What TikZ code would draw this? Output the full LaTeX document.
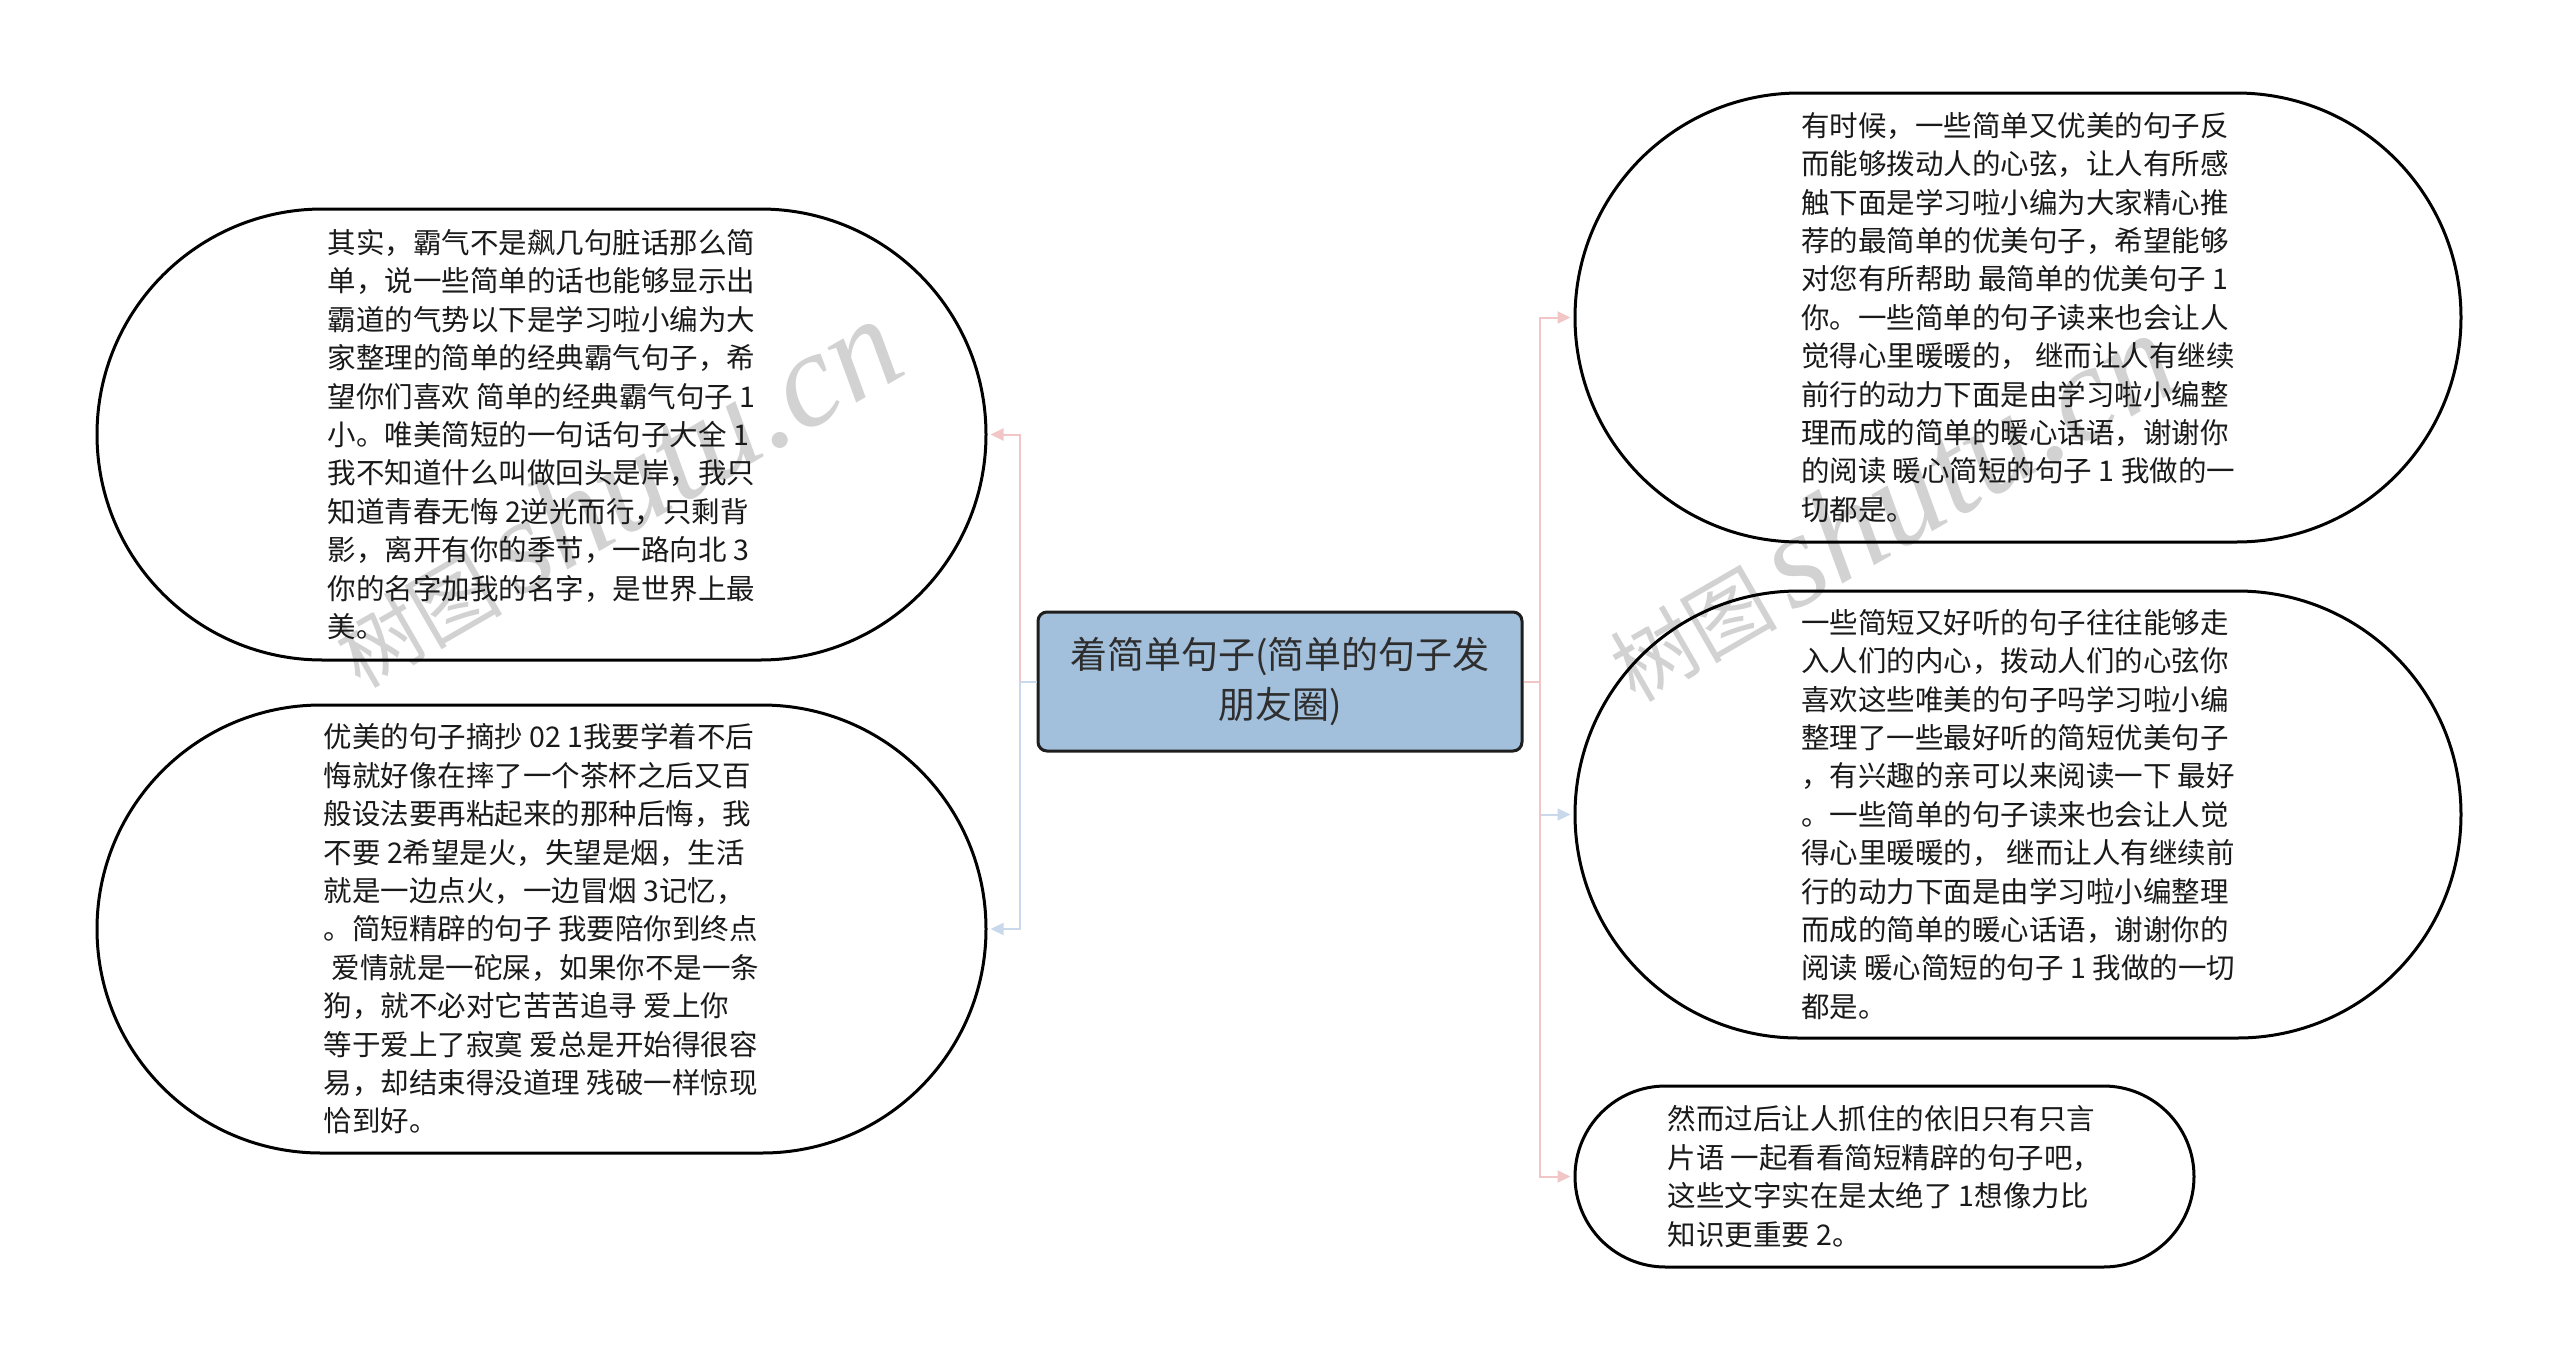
\documentclass[tikz,border=0pt]{standalone}
\usepackage{fontspec}
\newfontfamily\cjk{Noto Sans CJK SC}
\newfontfamily\wmfont{Liberation Serif}
\usetikzlibrary{shapes.misc,arrows.meta}
\definecolor{pinkline}{HTML}{F2C6C6}
\definecolor{blueline}{HTML}{C9D8EA}
\definecolor{boxfill}{HTML}{A2BFDC}
\definecolor{rootline}{HTML}{1E1E1E}
\definecolor{roottext}{HTML}{2E2E2E}
\definecolor{wmgray}{HTML}{D2D2D2}
\begin{document}
\begin{tikzpicture}[x=1pt,y=-1pt,
  bubble/.style={draw=black,line width=3pt,rounded rectangle,inner sep=4pt,align=left,
    font=\cjk\fontsize{28.5}{38.4}\selectfont,text=black!90},
  rootbox/.style={draw=rootline,fill=boxfill,line width=3pt,rounded corners=9pt,
    minimum width=484,minimum height=139,align=center,
    font=\cjk\fontsize{37}{50}\selectfont,text=roottext},
  pinkcon/.style={draw=pinkline,line width=2pt,-{Triangle[length=13pt,width=12pt]},shorten >=3pt},
  bluecon/.style={draw=blueline,line width=2pt,-{Triangle[length=13pt,width=12pt]},shorten >=3pt},
  wm/.style={text=wmgray,anchor=base west,rotate=30,inner sep=0pt}]
\useasboundingbox (0,0) rectangle (2560,1363);
\newcommand\wmtext{{\cjk\fontsize{84}{84}\selectfont 树图}\hspace{14pt}{\wmfont\itshape\fontsize{135}{135}\selectfont shutu.cn}}
\node[wm] (wm1) at (360,690) {\wmtext};
\node[wm] (wm2) at (1635,704) {\wmtext};

\node[rootbox] (root) at (1280,681.5) {着简单句子(简单的句子发\\朋友圈)};

\node[bubble,minimum width=897,minimum height=451] (L1) at (541.5,434.5) {其实，霸气不是飙几句脏话那么简\\单，说一些简单的话也能够显示出\\霸道的气势以下是学习啦小编为大\\家整理的简单的经典霸气句子，希\\望你们喜欢 简单的经典霸气句子 1\\小。唯美简短的一句话句子大全 1\\我不知道什么叫做回头是岸，我只\\知道青春无悔 2逆光而行，只剩背\\影，离开有你的季节，一路向北 3\\你的名字加我的名字，是世界上最\\美。};

\node[bubble,minimum width=897,minimum height=448] (L2) at (541.5,929) {优美的句子摘抄 02 1我要学着不后\\悔就好像在摔了一个茶杯之后又百\\般设法要再粘起来的那种后悔，我\\不要 2希望是火，失望是烟，生活\\就是一边点火，一边冒烟 3记忆，\\。简短精辟的句子 我要陪你到终点\\\hspace*{8pt}爱情就是一砣屎，如果你不是一条\\狗，就不必对它苦苦追寻 爱上你\\等于爱上了寂寞 爱总是开始得很容\\易，却结束得没道理 残破一样惊现\\恰到好。};

\node[bubble,minimum width=894,minimum height=449] (R1) at (2018,317.5) {有时候，一些简单又优美的句子反\\而能够拨动人的心弦，让人有所感\\触下面是学习啦小编为大家精心推\\荐的最简单的优美句子，希望能够\\对您有所帮助 最简单的优美句子 1\\你。一些简单的句子读来也会让人\\觉得心里暖暖的， 继而让人有继续\\前行的动力下面是由学习啦小编整\\理而成的简单的暖心话语，谢谢你\\的阅读 暖心简短的句子 1 我做的一\\切都是。};

\node[bubble,minimum width=894,minimum height=447] (R2) at (2018,814.5) {一些简短又好听的句子往往能够走\\入人们的内心，拨动人们的心弦你\\喜欢这些唯美的句子吗学习啦小编\\整理了一些最好听的简短优美句子\\，有兴趣的亲可以来阅读一下 最好\\。一些简单的句子读来也会让人觉\\得心里暖暖的， 继而让人有继续前\\行的动力下面是由学习啦小编整理\\而成的简单的暖心话语，谢谢你的\\阅读 暖心简短的句子 1 我做的一切\\都是。};

\node[bubble,minimum width=627,minimum height=181] (R3) at (1884.5,1176.5) {然而过后让人抓住的依旧只有只言\\片语 一起看看简短精辟的句子吧，\\这些文字实在是太绝了 1想像力比\\知识更重要 2。};

\coordinate (jl) at (1020,681.5);
\coordinate (jr) at (1540,681.5);
\draw[pinkcon] (root.west) -- (jl) |- (L1.east);
\draw[bluecon] (root.west) -- (jl) |- (L2.east);
\draw[bluecon] (root.east) -- (jr) |- (R2.west);
\draw[pinkcon] (root.east) -- (jr) |- (R1.west);
\draw[pinkcon] (root.east) -- (jr) |- (R3.west);
\end{tikzpicture}
\end{document}
